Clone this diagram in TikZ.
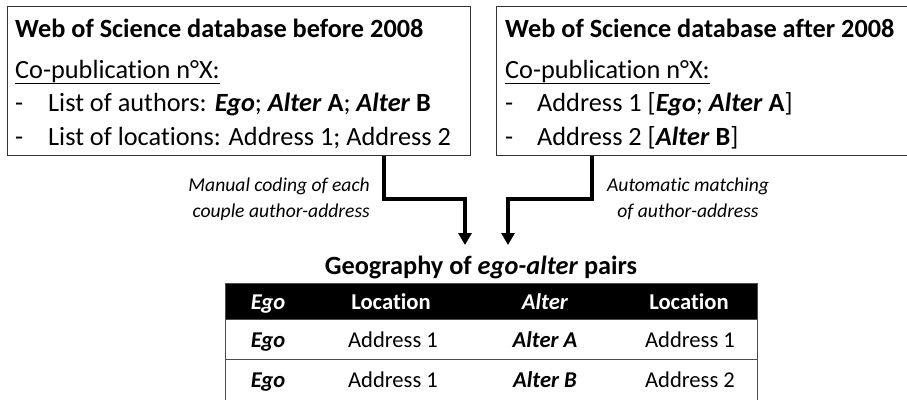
\documentclass[tikz,border=0pt]{standalone}
\usepackage{fontspec}
\setmainfont{Carlito}[Ligatures=NoCommon]
\usetikzlibrary{arrows.meta}

\newcommand{\boxfont}{\fontsize{26.3}{31}\selectfont}
\newcommand{\notefont}{\fontsize{19.6}{26}\selectfont\itshape}
\newcommand{\cellfont}{\fontsize{22.6}{27}\selectfont}
\newcommand{\who}[1]{\textbf{\textit{#1}}}

\begin{document}
\begin{tikzpicture}[x=1pt, y=-1pt, >={Triangle[width=13pt,length=12pt]}, line join=miter,
	dbbox/.style={draw, line width=1.1pt, draw=black!80, anchor=north west, minimum height=149pt},
	txt/.style={anchor=base west, inner sep=0pt, font=\boxfont},
	flow/.style={->, line width=3.4pt},
	note/.style={inner sep=0pt, font=\notefont},
	row/.style={draw=black!70, line width=1pt, anchor=north west, minimum width=532pt, minimum height=40pt},
	cell/.style={anchor=base, inner sep=0pt, font=\cellfont}]
	\useasboundingbox (0,0) rectangle (907,399);

	% the two databases
	\node[dbbox, minimum width=463pt] (before) at (7,6) {};
	\node[dbbox, minimum width=412pt] (after) at (496,6) {};

	\node[txt] (beforetitle) at (15,37) {\textbf{Web of Science database before 2008}};
	\node[txt] (beforepub) at (15,78) {\underline{Co-publication n°X:}};
	\node[txt] (beforedash1) at (15,111) {-};
	\node[txt] (beforeline1) at (48,111) {List of authors: \who{Ego}; \who{Alter} \textbf{A}; \who{Alter} \textbf{B}};
	\node[txt] (beforedash2) at (15,145) {-};
	\node[txt] (beforeline2) at (48,145) {List of locations: Address 1; Address 2};

	\node[txt] (aftertitle) at (505,37) {\textbf{Web of Science database after 2008}};
	\node[txt] (afterpub) at (505,78) {\underline{Co-publication n°X:}};
	\node[txt] (afterdash1) at (505,111) {-};
	\node[txt] (afterline1) at (537,111) {Address 1 [\who{Ego}; \who{Alter} \textbf{A}]};
	\node[txt] (afterdash2) at (505,145) {-};
	\node[txt] (afterline2) at (537,145) {Address 2 [\who{Alter} \textbf{B}]};

	% the two ways of coding
	\node[note, align=right, anchor=east] (manual) at (370,199) {Manual coding of each\\couple author-address};
	\node[note, align=center] (automatic) at (688,199) {Automatic matching\\of author-address};

	\node[anchor=base, inner sep=0pt, font=\boxfont\bfseries] (pairs) at (481,274) {Geography of \textit{ego-alter} pairs};

	\coordinate (lbend) at (465,199);
	\coordinate (rbend) at (508,199);
	\coordinate (lend) at (465,245);
	\coordinate (rend) at (508,245);
	\draw[flow] (before.south -| 384,0) |- (lbend) -- (lend);
	\draw[flow] (after.south -| 592,0) |- (rbend) -- (rend);

	% table of pairs (runs off the bottom edge)
	\node[row, fill=black, minimum height=36pt] (thead) at (225,283) {};
	\node[row] (trow1) at (225,319) {};
	\node[row, minimum height=44pt] (trow2) at (225,359) {};

	\foreach \cx/\ct [count=\i] in {268/{\textit{Ego}}, 391/Location, 545/{\textit{Alter}}, 689/Location}
		\node[cell, text=white, font=\cellfont\bfseries] (head\i) at (\cx,309) {\ct};
	\foreach \cx/\ct [count=\i] in {268/{\who{Ego}}, 393/{Address 1}, 545/{\who{Alter A}}, 690/{Address 1}}
		\node[cell] (first\i) at (\cx,347) {\ct};
	\foreach \cx/\ct [count=\i] in {268/{\who{Ego}}, 393/{Address 1}, 545/{\who{Alter B}}, 690/{Address 2}}
		\node[cell] (second\i) at (\cx,387) {\ct};
\end{tikzpicture}
\end{document}
